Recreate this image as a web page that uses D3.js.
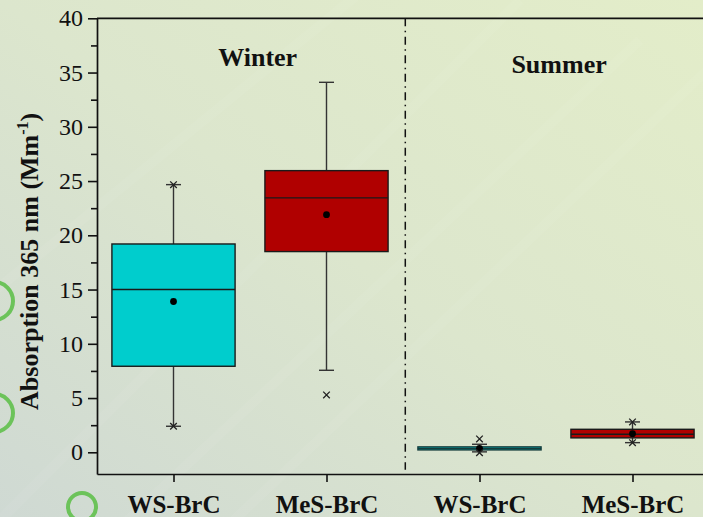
<!DOCTYPE html>
<html>
<head>
<meta charset="utf-8">
<script src="https://cdn.jsdelivr.net/npm/d3@7/dist/d3.min.js"></script>
<style>
  html, body { margin: 0; padding: 0; background: #dbe4cf; }
  svg { display: block; }
  text { font-family: "Liberation Serif", "Times New Roman", serif; fill: #111; }
</style>
</head>
<body>
<svg id="chart" width="703" height="517"></svg>
<script>
// Box statistics per group (Mm^-1)
const categories = ["WS-BrC", "MeS-BrC", "WS-BrC", "MeS-BrC"];
const seasons = ["Winter", "Summer"];
const q1 = [7.93, 18.5, 0.22, 1.33];
const medians = [15.0, 23.45, 0.35, 1.66];
const q3 = [19.2, 25.96, 0.5, 2.12];
const means = [13.9, 21.9, 0.37, 1.72];
const whiskerLow = [2.4, 7.56, 0.04, 0.89];
const whiskerHigh = [24.67, 34.1, 0.74, 2.8];
// extreme points drawn as crosses: [group index, value]
const extremes = [[0, 24.67], [0, 2.4], [1, 5.29], [2, 1.23], [2, -0.04], [3, 2.8], [3, 0.89]];
const fills = ["#00cdcd", "#b00000", "#00cdcd", "#b00000"];
const strokes = ["#1a1a1a", "#1a1a1a", "#143c3c", "#1a1a1a"];
const yTicks = [0, 5, 10, 15, 20, 25, 30, 35, 40];
const yMinorTicks = [2.5, 7.5, 12.5, 17.5, 22.5, 27.5, 32.5, 37.5];

const svg = d3.select("#chart");
const W = 703, H = 517;

// background
const defs = svg.append("defs");
const grad = defs.append("linearGradient").attr("id", "bg")
  .attr("x1", "100%").attr("y1", "0%").attr("x2", "0%").attr("y2", "100%");
grad.append("stop").attr("offset", "0%").attr("stop-color", "#e3edc9");
grad.append("stop").attr("offset", "50%").attr("stop-color", "#dce6cd");
grad.append("stop").attr("offset", "100%").attr("stop-color", "#cfd9d3");
svg.append("rect").attr("width", W).attr("height", H).attr("fill", "url(#bg)");

// faint diagonal sheen
const sheen = [[-100, 620, 520, 0], [0, 640, 640, 40], [150, 600, 760, 20], [-200, 450, 400, -40]];
svg.append("g").selectAll("line").data(sheen).join("line")
  .attr("x1", d => d[0]).attr("y1", d => d[1]).attr("x2", d => d[2]).attr("y2", d => d[3])
  .attr("stroke", "#ffffff").attr("stroke-opacity", 0.05).attr("stroke-width", 10);

// decorative rings along the left edge
const rings = [[-6, 301, 19], [-6, 413, 19], [82, 507, 14]];
svg.append("g").selectAll("circle").data(rings).join("circle")
  .attr("cx", d => d[0]).attr("cy", d => d[1]).attr("r", d => d[2])
  .attr("fill", "none").attr("stroke", "#6cc35a").attr("stroke-width", 4);

// scales
const x = d3.scaleLinear().domain([-0.5, 3.5]).range([97, 709]);
const y = d3.scaleLinear().domain([-2, 40]).range([474, 18.3]);
const boxW = (x(1) - x(0)) * 0.805;
const capW = 15;

// season divider
svg.append("line")
  .attr("x1", x(1.515)).attr("x2", x(1.515))
  .attr("y1", y(40)).attr("y2", y(-1.6))
  .attr("stroke", "#111").attr("stroke-width", 1.5)
  .attr("stroke-dasharray", "8,4.5,1.5,4.5");

// season titles
svg.append("text").attr("x", x(0.55)).attr("y", y(35.6))
  .attr("text-anchor", "middle").attr("font-weight", "bold").attr("font-size", 26)
  .text(seasons[0]);
svg.append("text").attr("x", x(2.52)).attr("y", y(35.0))
  .attr("text-anchor", "middle").attr("font-weight", "bold").attr("font-size", 26)
  .text(seasons[1]);

// boxes
const idx = d3.range(categories.length);
const g = svg.append("g");
// whiskers
g.selectAll("line.whisk").data(idx).join("line").attr("class", "whisk")
  .attr("x1", i => x(i)).attr("x2", i => x(i))
  .attr("y1", i => y(whiskerLow[i])).attr("y2", i => y(whiskerHigh[i]))
  .attr("stroke", "#333").attr("stroke-width", 1.4);
g.selectAll("line.capHi").data(idx).join("line").attr("class", "capHi")
  .attr("x1", i => x(i) - capW / 2).attr("x2", i => x(i) + capW / 2)
  .attr("y1", i => y(whiskerHigh[i])).attr("y2", i => y(whiskerHigh[i]))
  .attr("stroke", "#333").attr("stroke-width", 1.4);
g.selectAll("line.capLo").data(idx).join("line").attr("class", "capLo")
  .attr("x1", i => x(i) - capW / 2).attr("x2", i => x(i) + capW / 2)
  .attr("y1", i => y(whiskerLow[i])).attr("y2", i => y(whiskerLow[i]))
  .attr("stroke", "#333").attr("stroke-width", 1.4);
g.selectAll("rect.box").data(idx).join("rect").attr("class", "box")
  .attr("x", i => x(i) - boxW / 2).attr("width", boxW)
  .attr("y", i => y(q3[i])).attr("height", i => y(q1[i]) - y(q3[i]))
  .attr("fill", i => fills[i]).attr("stroke", i => strokes[i]).attr("stroke-width", 1.4);
g.selectAll("line.med").data(idx).join("line").attr("class", "med")
  .attr("x1", i => x(i) - boxW / 2).attr("x2", i => x(i) + boxW / 2)
  .attr("y1", i => y(medians[i])).attr("y2", i => y(medians[i]))
  .attr("stroke", i => strokes[i]).attr("stroke-width", 1.4);
g.selectAll("circle.mean").data(idx).join("circle").attr("class", "mean")
  .attr("cx", i => x(i)).attr("cy", i => y(means[i])).attr("r", 3.4)
  .attr("fill", "#000");
// crosses for extreme points
const cross = d3.symbol().type(d3.symbolX).size(30);
g.selectAll("path.ext").data(extremes).join("path").attr("class", "ext")
  .attr("transform", d => `translate(${x(d[0])},${y(d[1])})`)
  .attr("d", cross).attr("fill", "none").attr("stroke", "#222").attr("stroke-width", 1.3);

// axes
const yAxis = d3.axisLeft(y).tickValues(yTicks).tickSize(9).tickSizeOuter(0).tickPadding(5);
const ya = svg.append("g").attr("transform", `translate(${x(-0.5)},0)`).call(yAxis);
ya.select(".domain").attr("stroke", "#111").attr("stroke-width", 1.7);
ya.selectAll(".tick line").attr("stroke", "#111").attr("stroke-width", 1.6);
ya.selectAll(".tick text").attr("font-size", 24).attr("font-family", "Liberation Serif").attr("fill", "#222");

const yMinor = d3.axisLeft(y).tickValues(yMinorTicks).tickSize(6).tickSizeOuter(0).tickFormat("");
const ym = svg.append("g").attr("transform", `translate(${x(-0.5)},0)`).call(yMinor);
ym.select(".domain").remove();
ym.selectAll(".tick line").attr("stroke", "#111").attr("stroke-width", 1.6);

const xAxis = d3.axisBottom(x).tickValues(idx).tickFormat(i => categories[i])
  .tickSize(8).tickSizeOuter(0).tickPadding(13);
const xa = svg.append("g").attr("transform", `translate(0,${y(-2)})`).call(xAxis);
xa.select(".domain").attr("stroke", "#111").attr("stroke-width", 1.7);
xa.selectAll(".tick line").attr("stroke", "#111").attr("stroke-width", 1.6);
xa.selectAll(".tick text").attr("font-size", 25).attr("font-weight", "bold")
  .attr("font-family", "Liberation Serif").attr("fill", "#111");

// top frame line
svg.append("line").attr("x1", x(-0.5)).attr("x2", x(3.5))
  .attr("y1", y(40)).attr("y2", y(40))
  .attr("stroke", "#111").attr("stroke-width", 1.7);

// y-axis title
const yt = svg.append("text")
  .attr("transform", `translate(38,${y(17.6)}) rotate(-90)`)
  .attr("text-anchor", "middle").attr("font-weight", "bold").attr("font-size", 26);
yt.append("tspan").text("Absorption 365 nm (Mm");
yt.append("tspan").attr("font-size", 16).attr("dy", -10).text("-1");
yt.append("tspan").attr("dy", 10).text(")");
</script>
</body>
</html>
